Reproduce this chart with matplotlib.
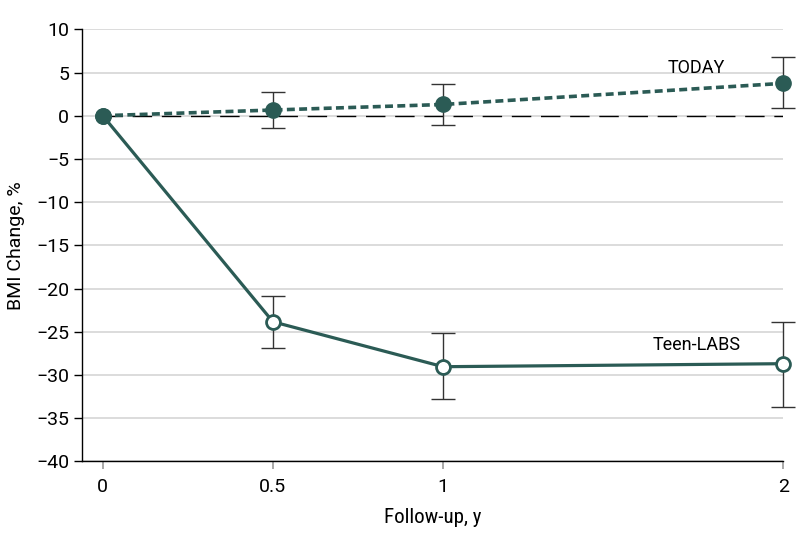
import matplotlib
matplotlib.use("Agg")
import matplotlib.pyplot as plt

plt.rcParams['font.family'] = ['Roboto', 'DejaVu Sans']

years = [0, 0.5, 1, 2]
xtick_labels = ['0', '0.5', '1', '2']

today_mean = [0, 0.66, 1.3, 3.75]
today_upper = [0, 2.7, 3.67, 6.8]
today_lower = [0, -1.46, -1.04, 0.86]

teen_mean = [0, -23.85, -29.05, -28.7]
teen_upper = [0, -20.85, -25.2, -23.9]
teen_lower = [0, -26.9, -32.8, -33.7]

yticks = list(range(10, -45, -5))

teal = '#2b5b55'

fig = plt.figure(figsize=(7.98, 5.46), dpi=100)
ax = fig.add_axes([0.1024, 0.1551, 0.9816 - 0.1024, 0.9463 - 0.1551])

ax.set_xlim(-0.062, 2)
ax.set_ylim(-40, 10)

for t in yticks:
    ax.axhline(t, color='#d9d9d9', lw=1.3, zorder=0)

ax.plot([0, 2], [0, 0], color='black', lw=1.0, dashes=(14, 7), zorder=1)

# error bars
for m, lo, hi in [(today_mean, today_lower, today_upper), (teen_mean, teen_lower, teen_upper)]:
    xs = years[1:]
    ms = m[1:]
    yerr = [[a - b for a, b in zip(ms, lo[1:])], [b - a for a, b in zip(ms, hi[1:])]]
    ax.errorbar(xs, ms, yerr=yerr, fmt='none', ecolor='#333333', elinewidth=1.0,
                capsize=8.5, capthick=1.0, zorder=2, clip_on=False)

ax.plot(years, teen_mean, color=teal, lw=2.3, zorder=3, clip_on=False)
ax.plot(years[1:], teen_mean[1:], 'o', ms=10, mfc='white', mec=teal, mew=2, zorder=4, clip_on=False)

ax.plot(years, today_mean, color=teal, lw=2.6, dashes=(2.2, 1.2), zorder=5, clip_on=False)
ax.plot(years, today_mean, 'o', ms=11, color=teal, zorder=6, clip_on=False)
ax.plot([0], [0], 'o', ms=11, color=teal, zorder=7, clip_on=False)

ax.text(1.745, 5.5, 'TODAY', ha='center', va='center', fontsize=13)
ax.text(1.745, -26.5, 'Teen-LABS', ha='center', va='center', fontsize=13)

ax.set_yticks(yticks)
ax.set_yticklabels([str(t).replace('-', '\u2212') for t in yticks], fontsize=14)
ax.set_xticks(years)
ax.set_xticklabels(xtick_labels, fontsize=14)

ax.tick_params(axis='y', length=6, width=1, color='black', pad=3)
ax.tick_params(axis='x', length=6, width=1.2, color='#999999', pad=6)

ax.spines['top'].set_visible(False)
ax.spines['right'].set_visible(False)
ax.spines['left'].set_linewidth(1.0)
ax.spines['bottom'].set_linewidth(1.0)

ax.set_xlabel('Follow-up, y', fontsize=15, labelpad=9,
              family=['Roboto Condensed', 'Roboto', 'DejaVu Sans'])
ax.set_ylabel('BMI Change, %', fontsize=14, labelpad=8)

fig.savefig('out.png', dpi=100)
